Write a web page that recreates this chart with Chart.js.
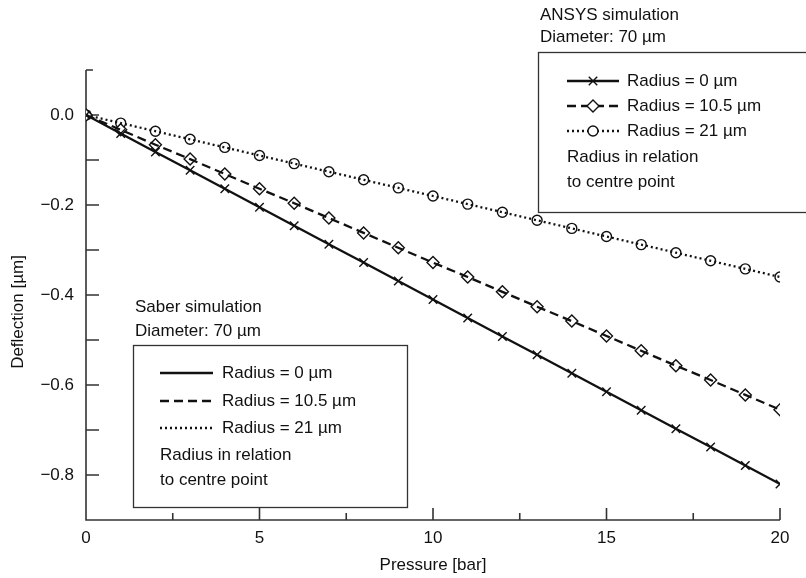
<!DOCTYPE html>
<html>
<head>
<meta charset="utf-8">
<script src="https://cdn.jsdelivr.net/npm/chart.js@4.4.1/dist/chart.umd.min.js"></script>
<style>
  html, body { margin: 0; padding: 0; background: #fff; }
  #wrap { width: 806px; height: 578px; }
</style>
</head>
<body>
<div id="wrap"><canvas id="myChart" width="806" height="578"></canvas></div>
<script>
  const FONT = '"Liberation Sans", Arial, Helvetica, sans-serif';
  const INK = '#111';

  // pressure [bar]
  const pressure = [0, 1, 2, 3, 4, 5, 6, 7, 8, 9, 10, 11, 12, 13, 14, 15, 16, 17, 18, 19, 20];

  // deflection [µm], ANSYS simulation (markers)
  const ansysR0 = [0, -0.041, -0.082, -0.123, -0.164, -0.205, -0.246, -0.287, -0.328, -0.369, -0.410,
    -0.451, -0.492, -0.533, -0.574, -0.615, -0.656, -0.697, -0.738, -0.779, -0.820];
  const ansysR105 = [0, -0.033, -0.066, -0.098, -0.131, -0.164, -0.196, -0.229, -0.262, -0.295, -0.328,
    -0.360, -0.393, -0.426, -0.458, -0.491, -0.524, -0.557, -0.589, -0.622, -0.655];
  const ansysR21 = [0, -0.018, -0.036, -0.054, -0.072, -0.090, -0.108, -0.126, -0.144, -0.162, -0.180,
    -0.198, -0.216, -0.234, -0.252, -0.270, -0.288, -0.306, -0.324, -0.342, -0.360];

  // deflection [µm], Saber simulation (lines)
  const saberR0 = [0, -0.041, -0.082, -0.123, -0.164, -0.205, -0.246, -0.287, -0.328, -0.369, -0.410,
    -0.451, -0.492, -0.533, -0.574, -0.615, -0.656, -0.697, -0.738, -0.779, -0.820];
  const saberR105 = [0, -0.033, -0.066, -0.098, -0.131, -0.164, -0.196, -0.229, -0.262, -0.295, -0.328,
    -0.360, -0.393, -0.426, -0.458, -0.491, -0.524, -0.557, -0.589, -0.622, -0.655];
  const saberR21 = [0, -0.018, -0.036, -0.054, -0.072, -0.090, -0.108, -0.126, -0.144, -0.162, -0.180,
    -0.198, -0.216, -0.234, -0.252, -0.270, -0.288, -0.306, -0.324, -0.342, -0.360];

  const xTicks = [0, 5, 10, 15, 20];
  const xMinor = [2.5, 7.5, 12.5, 17.5];
  const yTicks = [0, -0.2, -0.4, -0.6, -0.8];
  const yMinor = [0.1, -0.1, -0.3, -0.5, -0.7];

  const seriesNames = ['Radius = 0 µm', 'Radius = 10.5 µm', 'Radius = 21 µm'];

  function pts(arr) {
    return pressure.map((p, i) => ({ x: p, y: arr[i] }));
  }

  const dashes = [[], [9, 5], [2, 3]];
  const marks = ['crossRot', 'rectRot', 'circle'];
  const markR = [6, 6, 5];

  const saberSets = [saberR0, saberR105, saberR21].map((arr, i) => ({
    label: 'Saber ' + seriesNames[i],
    data: pts(arr),
    borderColor: INK,
    borderWidth: 2.3,
    borderDash: dashes[i],
    pointRadius: 0,
    fill: false,
    order: 0
  }));

  const ansysSets = [ansysR0, ansysR105, ansysR21].map((arr, i) => ({
    label: 'ANSYS ' + seriesNames[i],
    data: pts(arr),
    showLine: false,
    borderColor: INK,
    backgroundColor: '#fff',
    pointStyle: marks[i],
    pointRadius: markR[i],
    pointBorderWidth: 1.4,
    order: 1
  }));

  function drawMarker(ctx, style, x, y, r) {
    ctx.save();
    ctx.strokeStyle = INK;
    ctx.fillStyle = '#fff';
    ctx.lineWidth = 1.4;
    ctx.setLineDash([]);
    ctx.beginPath();
    if (style === 'crossRot') {
      const d = r * 0.7071;
      ctx.moveTo(x - d, y - d); ctx.lineTo(x + d, y + d);
      ctx.moveTo(x - d, y + d); ctx.lineTo(x + d, y - d);
      ctx.stroke();
    } else if (style === 'rectRot') {
      ctx.moveTo(x, y - r); ctx.lineTo(x + r, y); ctx.lineTo(x, y + r); ctx.lineTo(x - r, y);
      ctx.closePath(); ctx.fill(); ctx.stroke();
    } else {
      ctx.arc(x, y, r, 0, Math.PI * 2); ctx.fill(); ctx.stroke();
    }
    ctx.restore();
  }

  function legendBox(ctx, o) {
    ctx.save();
    ctx.font = '17px ' + FONT;
    ctx.fillStyle = INK;
    ctx.textBaseline = 'middle';
    ctx.textAlign = 'left';
    ctx.fillText(o.title[0], o.x + 2, o.titleY[0]);
    ctx.fillText(o.title[1], o.x + 2, o.titleY[1]);
    ctx.fillStyle = '#fff';
    ctx.fillRect(o.x, o.y, o.w, o.h);
    ctx.strokeStyle = '#333';
    ctx.lineWidth = 1.3;
    ctx.strokeRect(o.x + 0.5, o.y + 0.5, o.w, o.h);
    for (let i = 0; i < 3; i++) {
      const y = o.rows[i];
      ctx.strokeStyle = INK;
      ctx.lineWidth = 2.3;
      ctx.setLineDash(dashes[i]);
      ctx.beginPath();
      ctx.moveTo(o.lx0, y); ctx.lineTo(o.lx1, y);
      ctx.stroke();
      ctx.setLineDash([]);
      if (o.markers) drawMarker(ctx, marks[i], (o.lx0 + o.lx1) / 2, y, markR[i]);
      ctx.fillStyle = INK;
      ctx.fillText(seriesNames[i], o.tx, y);
    }
    ctx.fillText('Radius in relation', o.lx0, o.rows[3]);
    ctx.fillText('to centre point', o.lx0, o.rows[4]);
    ctx.restore();
  }

  const decor = {
    id: 'decor',
    beforeDatasetsDraw(chart) {
      const ctx = chart.ctx;
      const xs = chart.scales.x, ys = chart.scales.y;
      const a = chart.chartArea;
      ctx.save();
      ctx.strokeStyle = '#333';
      ctx.lineWidth = 1.6;
      ctx.beginPath();
      ctx.moveTo(a.left, a.top); ctx.lineTo(a.left, a.bottom); ctx.lineTo(a.right, a.bottom);
      yTicks.forEach(v => { const y = ys.getPixelForValue(v); ctx.moveTo(a.left, y); ctx.lineTo(a.left + 13, y); });
      yMinor.forEach(v => { const y = ys.getPixelForValue(v); ctx.moveTo(a.left, y); ctx.lineTo(a.left + (v > 0.05 ? 7 : 13), y); });
      xTicks.forEach(v => { const x = xs.getPixelForValue(v); ctx.moveTo(x, a.bottom); ctx.lineTo(x, a.bottom - 12); });
      xMinor.forEach(v => { const x = xs.getPixelForValue(v); ctx.moveTo(x, a.bottom); ctx.lineTo(x, a.bottom - 7); });
      ctx.stroke();
      ctx.restore();
    },
    afterDraw(chart) {
      const ctx = chart.ctx;
      ctx.save();
      ctx.translate(18, 312);
      ctx.rotate(-Math.PI / 2);
      ctx.font = '17px ' + FONT;
      ctx.fillStyle = INK;
      ctx.textAlign = 'center';
      ctx.textBaseline = 'middle';
      ctx.fillText('Deflection [µm]', 0, 0);
      ctx.restore();

      legendBox(ctx, {
        title: ['ANSYS simulation', 'Diameter: 70 µm'], titleY: [15, 37],
        x: 538, y: 52, w: 280, h: 160, markers: true,
        rows: [81, 106, 131, 157, 182], lx0: 567, lx1: 619, tx: 627
      });
      legendBox(ctx, {
        title: ['Saber simulation', 'Diameter: 70 µm'], titleY: [307, 331],
        x: 133, y: 345, w: 274, h: 162, markers: false,
        rows: [373, 401, 428, 455, 480], lx0: 160, lx1: 213, tx: 222
      });
    }
  };

  const config = {
    type: 'line',
    data: { datasets: saberSets.concat(ansysSets) },
    options: {
      responsive: false,
      animation: false,
      devicePixelRatio: 1,
      layout: { padding: { left: 0, top: 70, right: 26, bottom: 0 } },
      plugins: { legend: { display: false }, tooltip: { enabled: false } },
      scales: {
        x: {
          type: 'linear',
          min: 0, max: 20,
          grid: { display: false, drawTicks: false },
          border: { display: false },
          afterBuildTicks: s => { s.ticks = xTicks.map(v => ({ value: v })); },
          afterFit: s => { s.height = 58; },
          ticks: { color: INK, font: { family: FONT, size: 17 }, padding: 8, maxRotation: 0 },
          title: { display: true, text: 'Pressure [bar]', color: INK, font: { family: FONT, size: 17 }, padding: { top: 0, bottom: 2 } }
        },
        y: {
          type: 'linear',
          min: -0.9, max: 0.1,
          grid: { display: false, drawTicks: false },
          border: { display: false },
          afterBuildTicks: s => { s.ticks = yTicks.map(v => ({ value: v })); },
          afterFit: s => { s.width = 86; },
          ticks: {
            color: INK, font: { family: FONT, size: 17 }, padding: 12,
            callback: v => v === 0 ? '0.0' : '\u2212' + Math.abs(v).toFixed(1)
          }
        }
      }
    },
    plugins: [decor]
  };

  const myChart = new Chart(document.getElementById('myChart'), config);
</script>
</body>
</html>
